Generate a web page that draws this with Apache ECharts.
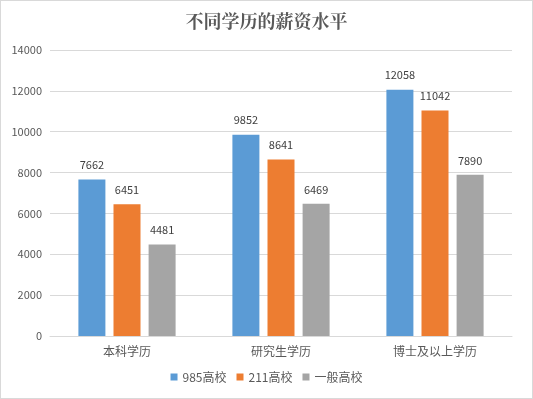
<!DOCTYPE html>
<html><head><meta charset="utf-8">
<script src="https://cdn.jsdelivr.net/npm/echarts@6/dist/echarts.min.js"></script>
<style>html,body{margin:0;padding:0;background:#fff}#c{width:533px;height:399px;box-sizing:border-box;border:1px solid #d9d9d9}</style>
</head><body><div id="c"></div>
<script>
const categories = ['本科学历', '研究生学历', '博士及以上学历'];
const s985 = [7662, 9852, 12058];
const s211 = [6451, 8641, 11042];
const sGeneral = [4481, 6469, 7890];
const seriesNames = ['985高校', '211高校', '一般高校'];
const colors = ['#5B9BD5', '#ED7D31', '#A5A5A5'];

const chart = echarts.init(document.getElementById('c'));
const font = '"Microsoft YaHei","Noto Sans CJK SC",sans-serif';
const label = {show: true, position: 'top', color: '#404040', fontSize: 11, fontFamily: font, distance: 9};
chart.setOption({
  animation: false,
  color: colors,
  title: {text: '不同学历的薪资水平', left: 'center', top: 6,
    textStyle: {fontFamily: '"Noto Serif CJK SC","Noto Sans CJK SC",serif', fontSize: 18, fontWeight: 'bold', color: '#595959'}},
  grid: {left: 49, right: 20, top: 49, bottom: 62, containLabel: false},
  legend: {bottom: 10, left: 'center', itemWidth: 7, itemHeight: 7, itemGap: 10, icon: 'rect',
    textStyle: {color: '#595959', fontSize: 12, fontFamily: font}},
  xAxis: {type: 'category', data: categories,
    axisLine: {lineStyle: {color: '#d9d9d9'}}, axisTick: {show: false},
    axisLabel: {color: '#595959', fontSize: 12, fontFamily: font, margin: 9}},
  yAxis: {type: 'value', min: 0, max: 14000, interval: 2000,
    axisLine: {show: false}, axisTick: {show: false},
    splitLine: {lineStyle: {color: '#d9d9d9'}},
    axisLabel: {color: '#595959', fontSize: 11, fontFamily: font, margin: 8, formatter: v => String(v)}},
  series: [
    {name: seriesNames[0], type: 'bar', data: s985, barWidth: 27, barGap: '30%', label},
    {name: seriesNames[1], type: 'bar', data: s211, barWidth: 27, barGap: '30%', label},
    {name: seriesNames[2], type: 'bar', data: sGeneral, barWidth: 27, barGap: '30%', label}
  ]
});
</script></body></html>
